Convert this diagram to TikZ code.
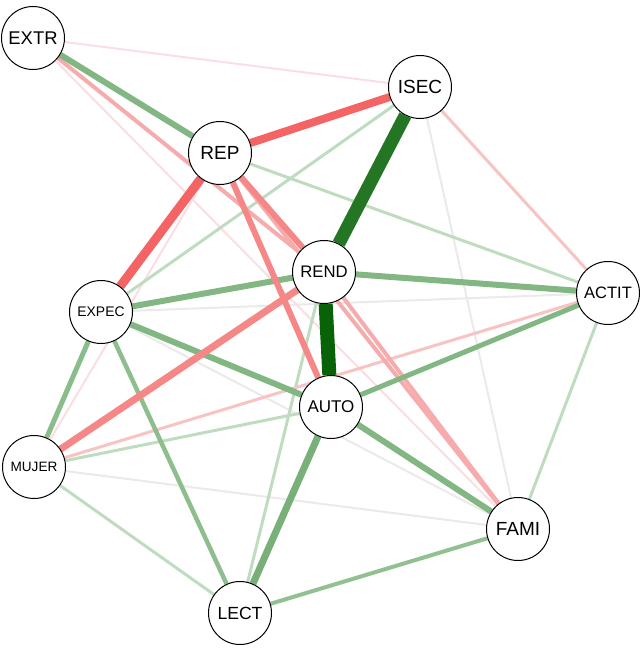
\documentclass[tikz,border=0pt]{standalone}
\usepackage{fontspec}
\setmainfont{Liberation Sans}
\usetikzlibrary{backgrounds}
\definecolor{gdark}{RGB}{8,98,8}
\definecolor{gdark2}{RGB}{36,118,36}
\definecolor{gmed}{RGB}{130,182,130}
\definecolor{glight}{RGB}{192,220,192}
\definecolor{gry}{RGB}{234,234,234}
\definecolor{rstrong}{RGB}{245,100,100}
\definecolor{rmed}{RGB}{245,135,135}
\definecolor{pnks}{RGB}{246,172,172}
\definecolor{pnk}{RGB}{248,195,195}
\definecolor{pnkf}{RGB}{250,222,226}
\tikzset{
  vnode/.style={circle,draw=black,line width=1pt,fill=white,minimum size=63pt,inner sep=0pt},
  edge/.style={line cap=butt}
}
\begin{document}
\begin{tikzpicture}[x=1pt,y=-1pt]
\useasboundingbox (0,0) rectangle (643,650);
\node[vnode,font=\fontsize{18.4}{20}\selectfont] (EXTR) at (33,38) {EXTR};
\node[vnode,font=\fontsize{19}{21}\selectfont] (ISEC) at (420,87) {ISEC};
\node[vnode,font=\fontsize{19}{21}\selectfont] (REP) at (220,153) {REP};
\node[vnode,font=\fontsize{16.7}{18}\selectfont] (REND) at (324,272) {REND};
\node[vnode,font=\fontsize{16.5}{18}\selectfont] (ACTIT) at (608,293) {ACTIT};
\node[vnode,font=\fontsize{13.9}{15}\selectfont] (EXPEC) at (101,312) {EXPEC};
\node[vnode,font=\fontsize{17}{19}\selectfont] (AUTO) at (331,407) {AUTO};
\node[vnode,font=\fontsize{13.6}{15}\selectfont] (MUJER) at (34,467) {MUJER};
\node[vnode,font=\fontsize{19}{21}\selectfont] (FAMI) at (518,529) {FAMI};
\node[vnode,font=\fontsize{17.6}{19}\selectfont] (LECT) at (240,613) {LECT};
\begin{scope}[on background layer]
% faint grey
\draw[edge,gry,line width=2pt] (ISEC) -- (FAMI);
\draw[edge,gry,line width=2pt] (EXPEC) -- (ACTIT);
\draw[edge,gry,line width=2pt] (EXPEC) -- (FAMI);
\draw[edge,gry,line width=2pt] (MUJER) -- (FAMI);
% faint pink
\draw[edge,pnkf,line width=2pt] (EXTR) -- (ISEC);
\draw[edge,pnkf,line width=2pt] (EXTR) -- (FAMI);
\draw[edge,pnkf,line width=2pt] (REP) -- (MUJER);
% light green
\draw[edge,glight,line width=3pt] (ISEC) -- (EXPEC);
\draw[edge,glight,line width=3pt] (REP) -- (ACTIT);
\draw[edge,glight,line width=3pt] (REND) -- (LECT);
\draw[edge,glight,line width=3pt] (MUJER) -- (AUTO);
\draw[edge,glight,line width=3pt] (MUJER) -- (LECT);
\draw[edge,glight,line width=3pt] (ACTIT) -- (FAMI);
% pink
\draw[edge,pnk,line width=3pt] (ISEC) -- (ACTIT);
\draw[edge,pnk,line width=3pt] (MUJER) -- (ACTIT);
\draw[edge,pnks,line width=4pt] (EXTR) -- (REND);
\draw[edge,pnks,line width=4pt] (REND) -- (FAMI);
\draw[edge,pnks,line width=4pt] (REP) -- (FAMI);
% medium green
\draw[edge,gmed!75!glight,line width=4pt] (LECT) -- (FAMI);
\draw[edge,gmed!80!glight,line width=4.5pt] (EXPEC) -- (LECT);
\draw[edge,gmed!85!glight,line width=5pt] (EXPEC) -- (MUJER);
\draw[edge,gmed,line width=5pt] (AUTO) -- (ACTIT);
\draw[edge,gmed,line width=6pt] (EXTR) -- (REP);
\draw[edge,gmed,line width=6pt] (REND) -- (EXPEC);
\draw[edge,gmed,line width=6pt] (REND) -- (ACTIT);
\draw[edge,gmed,line width=6pt] (EXPEC) -- (AUTO);
\draw[edge,gmed,line width=6pt] (AUTO) -- (FAMI);
\draw[edge,gmed!90!gdark2,line width=7pt] (AUTO) -- (LECT);
% red
\draw[edge,rmed,line width=6pt] (REP) -- (REND);
\draw[edge,rmed,line width=6pt] (REP) -- (AUTO);
\draw[edge,rmed,line width=7pt] (REND) -- (MUJER);
\draw[edge,rstrong,line width=8pt] (REP) -- (ISEC);
\draw[edge,rstrong,line width=9pt] (REP) -- (EXPEC);
% dark green
\draw[edge,gdark2,line width=13pt] (ISEC) -- (REND);
\draw[edge,gdark,line width=14pt] (REND) -- (AUTO);
\end{scope}
\end{tikzpicture}
\end{document}
